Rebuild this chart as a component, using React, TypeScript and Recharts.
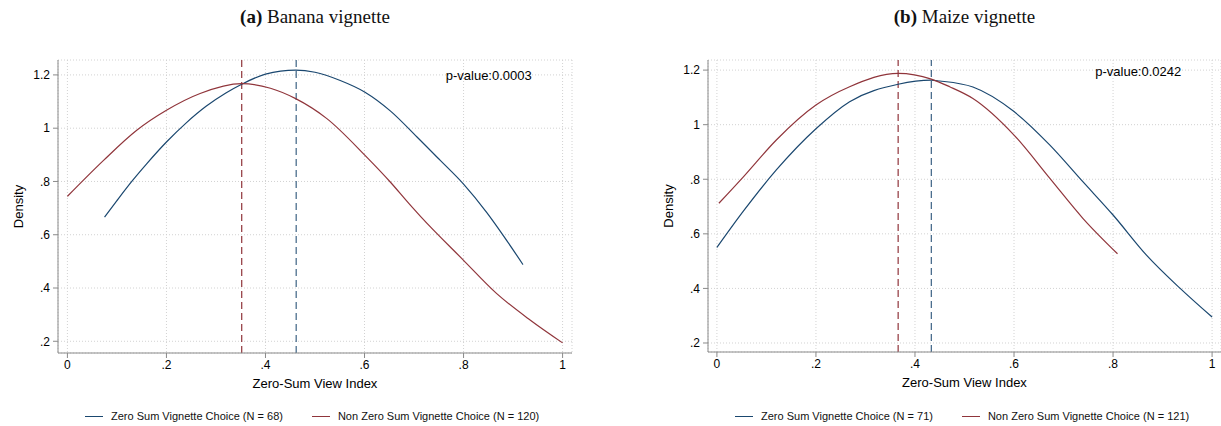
import { LineChart, Line, XAxis, YAxis, CartesianGrid, ReferenceLine, ReferenceDot, Legend } from "recharts";

// Stata s2color navy / maroon
const NAVY = "#1a476f";
const MAROON = "#90353b";
const AXIS = "#8a8a8a";
const FONT = "'Liberation Sans', Arial, Helvetica, sans-serif";

const X_TICKS = [0, 0.2, 0.4, 0.6, 0.8, 1];
const Y_TICKS = [0.2, 0.4, 0.6, 0.8, 1, 1.2];

// (a) Banana vignette
const bananaZeroX = [0.075, 0.1, 0.13, 0.16, 0.2, 0.24, 0.28, 0.32, 0.352, 0.4, 0.461, 0.5, 0.551, 0.601, 0.652, 0.706, 0.753, 0.8, 0.847, 0.881, 0.92];
const bananaZeroY = [0.666, 0.728, 0.8, 0.866, 0.948, 1.02, 1.082, 1.132, 1.165, 1.203, 1.218, 1.21, 1.179, 1.135, 1.065, 0.967, 0.879, 0.79, 0.683, 0.595, 0.488];
const bananaNonX = [0, 0.073, 0.14, 0.2, 0.268, 0.352, 0.41, 0.461, 0.524, 0.601, 0.652, 0.693, 0.713, 0.8, 0.867, 0.935, 1];
const bananaNonY = [0.744, 0.879, 0.992, 1.067, 1.13, 1.167, 1.15, 1.111, 1.036, 0.898, 0.798, 0.71, 0.669, 0.504, 0.379, 0.279, 0.194];
const bananaMeans = { zero: 0.462, non: 0.352 };

// (b) Maize vignette
const maizeZeroX = [0, 0.053, 0.12, 0.2, 0.268, 0.366, 0.433, 0.45, 0.517, 0.6, 0.672, 0.739, 0.8, 0.867, 0.935, 1];
const maizeZeroY = [0.55, 0.682, 0.834, 0.985, 1.084, 1.148, 1.163, 1.16, 1.138, 1.048, 0.926, 0.791, 0.669, 0.523, 0.401, 0.295];
const maizeNonX = [0.004, 0.053, 0.12, 0.2, 0.268, 0.366, 0.433, 0.47, 0.517, 0.6, 0.672, 0.739, 0.809];
const maizeNonY = [0.712, 0.808, 0.944, 1.072, 1.139, 1.188, 1.167, 1.139, 1.096, 0.962, 0.804, 0.657, 0.527];
const maizeMeans = { zero: 0.433, non: 0.366 };

const toPoints = (xs: number[], ys: number[]) => xs.map((x, i) => ({ x, y: ys[i] }));

const fmt = (v: number) => {
  const s = String(Math.round(v * 10) / 10);
  return s.startsWith("0.") ? s.slice(1) : s;
};

const renderLegend = (props: any) => {
  // keep "Zero Sum" first, like the original
  const items = [...(props.payload || [])].sort(
    (a: any, b: any) => (String(a.value).startsWith("Non") ? 1 : 0) - (String(b.value).startsWith("Non") ? 1 : 0)
  );
  return (
    <div style={{ display: "flex", fontFamily: FONT, fontSize: 11, color: "#111", whiteSpace: "nowrap" }}>
      {items.map((p: any, i: number) => (
        <div key={i} style={{ display: "flex", alignItems: "center", marginRight: 29 }}>
          <span style={{ display: "inline-block", width: 18, borderTop: `1.4px solid ${p.color}`, marginRight: 8 }} />
          <span>{p.value}</span>
        </div>
      ))}
    </div>
  );
};

type PanelProps = {
  tag: string;
  title: string;
  left: number;
  width: number;
  margin: { top: number; right: number; bottom: number; left: number };
  xDomain: [number, number];
  yDomain: [number, number];
  zero: { x: number; y: number }[];
  non: { x: number; y: number }[];
  nZero: number;
  nNon: number;
  means: { zero: number; non: number };
  pValue: string;
  pAt: { x: number; y: number };
  legendLeft: number;
};

function Panel(p: PanelProps) {
  const plotLeft = p.left + p.margin.left + 58;
  const plotWidth = p.width - p.margin.left - 58 - p.margin.right;
  return (
    <>
      <div
        style={{
          position: "absolute",
          left: plotLeft - 40,
          width: plotWidth + 80,
          top: 5,
          textAlign: "center",
          fontFamily: "'Liberation Serif', 'DejaVu Serif', serif",
          fontSize: 19,
          lineHeight: "24px",
          color: "#111",
        }}
      >
        <b>{p.tag}</b> {p.title}
      </div>
      <div style={{ position: "absolute", left: p.left, top: 0 }}>
        <LineChart width={p.width} height={426} margin={p.margin}>
          <CartesianGrid stroke="#d2d2d2" strokeDasharray="1 2" />
          <XAxis
            type="number"
            dataKey="x"
            domain={p.xDomain}
            ticks={X_TICKS}
            tickFormatter={fmt}
            height={40}
            stroke={AXIS}
            tickSize={5}
            tickMargin={2}
            tick={{ fill: "#000", fontSize: 12, fontFamily: FONT }}
            label={{ value: "Zero-Sum View Index", position: "insideBottom", offset: 5, fill: "#000", fontSize: 13, fontFamily: FONT }}
          />
          <YAxis
            type="number"
            domain={p.yDomain}
            ticks={Y_TICKS}
            tickFormatter={fmt}
            width={58}
            stroke={AXIS}
            tickSize={5}
            tickMargin={3}
            tick={{ fill: "#000", fontSize: 12, fontFamily: FONT }}
            label={{
              content: (lp: any) => {
                const vb = lp.viewBox || { x: 0, y: 0, height: 0 };
                const x = vb.x + 18;
                const y = vb.y + vb.height / 2;
                return (
                  <text x={x} y={y} transform={`rotate(-90 ${x} ${y})`} textAnchor="middle" dominantBaseline="central" fontSize={13} fontFamily={FONT} fill="#000">
                    Density
                  </text>
                );
              },
            }}
          />
          <ReferenceLine x={p.means.non} stroke={MAROON} strokeDasharray="7 4" strokeWidth={1.2} />
          <ReferenceLine x={p.means.zero} stroke={NAVY} strokeDasharray="7 4" strokeWidth={1.2} strokeOpacity={0.85} />
          <Line
            data={p.zero}
            dataKey="y"
            type="monotone"
            name={`Zero Sum Vignette Choice (N = ${p.nZero})`}
            stroke={NAVY}
            strokeWidth={1.2}
            dot={false}
            legendType="plainline"
            isAnimationActive={false}
          />
          <Line
            data={p.non}
            dataKey="y"
            type="monotone"
            name={`Non Zero Sum Vignette Choice (N = ${p.nNon})`}
            stroke={MAROON}
            strokeWidth={1.2}
            dot={false}
            legendType="plainline"
            isAnimationActive={false}
          />
          <ReferenceDot
            x={p.pAt.x}
            y={p.pAt.y}
            r={0}
            fill="none"
            stroke="none"
            label={{ value: p.pValue, position: "right", offset: 0, fill: "#000", fontSize: 13, fontFamily: FONT }}
          />
          <Legend
            layout="horizontal"
            verticalAlign="middle"
            content={renderLegend}
            wrapperStyle={{ left: p.legendLeft, top: 410, width: "auto" }}
          />
        </LineChart>
      </div>
    </>
  );
}

export default function App() {
  return (
    <div style={{ position: "absolute", left: 0, top: 0, width: 1221, height: 426, background: "#fff", overflow: "hidden" }}>
      <Panel
        tag="(a)"
        title="Banana vignette"
        left={0}
        width={610}
        margin={{ top: 60, right: 38, bottom: 33, left: 0 }}
        xDomain={[-0.019, 1.019]}
        yDomain={[0.156, 1.256]}
        zero={toPoints(bananaZeroX, bananaZeroY)}
        non={toPoints(bananaNonX, bananaNonY)}
        nZero={68}
        nNon={120}
        means={bananaMeans}
        pValue="p-value:0.0003"
        pAt={{ x: 0.764, y: 1.197 }}
        legendLeft={85}
      />
      <Panel
        tag="(b)"
        title="Maize vignette"
        left={610}
        width={611}
        margin={{ top: 60, right: 0, bottom: 34, left: 40 }}
        xDomain={[-0.018, 1.018]}
        yDomain={[0.167, 1.237]}
        zero={toPoints(maizeZeroX, maizeZeroY)}
        non={toPoints(maizeNonX, maizeNonY)}
        nZero={71}
        nNon={121}
        means={maizeMeans}
        pValue="p-value:0.0242"
        pAt={{ x: 0.764, y: 1.194 }}
        legendLeft={125}
      />
    </div>
  );
}
